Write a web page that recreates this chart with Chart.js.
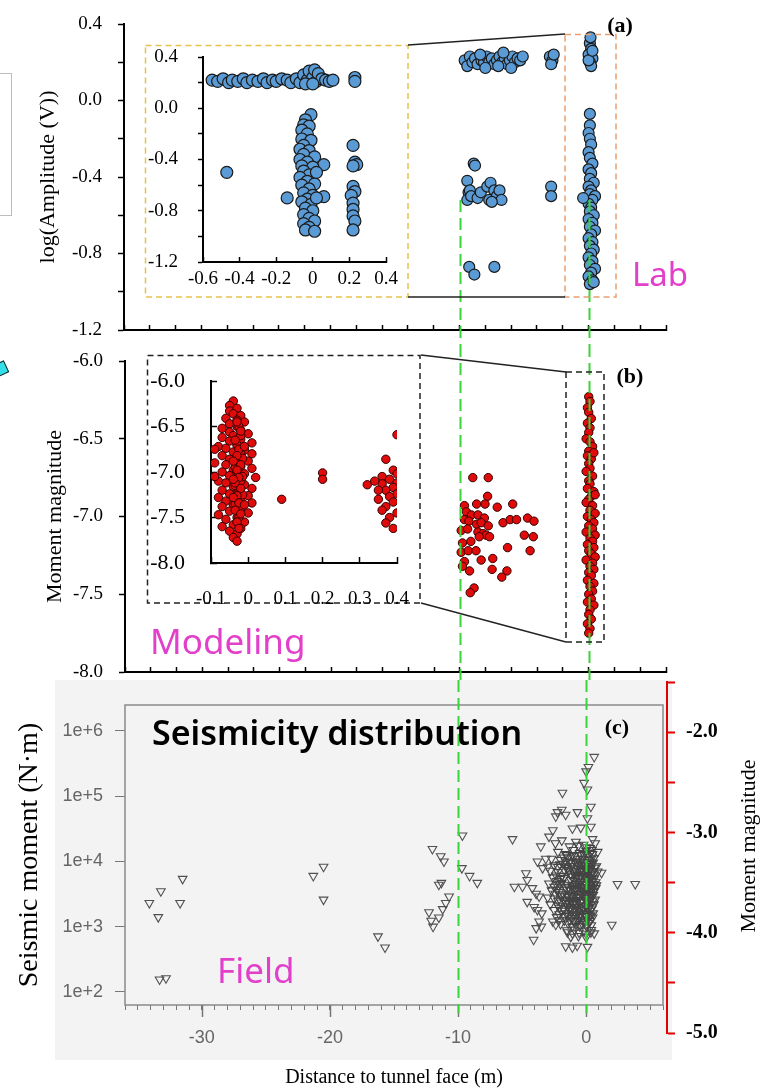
<!DOCTYPE html>
<html>
<head>
<meta charset="utf-8">
<script src="https://cdn.jsdelivr.net/npm/chart.js@4.4.1/dist/chart.umd.min.js"></script>
<style>
  body { margin: 0; background: #fff; }
  #wrap { position: relative; width: 771px; height: 1091px; overflow: hidden; background: #fff; }
  canvas { position: absolute; }
  #scan { position: absolute; left: 55px; top: 680px; width: 617px; height: 380px; background: #f3f3f3; }
  #sidebox { position: absolute; left: -6px; top: 73px; width: 16px; height: 141px; border: 1.5px solid #bdbdbd; }
  #cyan { position: absolute; left: -4px; top: 362px; width: 9px; height: 11px; background: #33e0e8; border: 1.5px solid #222; transform: rotate(-25deg); }
  svg { position: absolute; left: 0; top: 0; }
</style>
</head>
<body>
<div id="wrap">
  <div id="scan"></div>
  <div id="sidebox"></div>
  <div id="cyan"></div>
  <canvas id="cA" width="700" height="345" style="left:0;top:0"></canvas>
  <canvas id="cB" width="700" height="335" style="left:0;top:345px"></canvas>
  <canvas id="cC" width="680" height="411" style="left:0;top:680px"></canvas>
  <canvas id="cC2" width="131" height="380" style="left:640px;top:670px"></canvas>
  <canvas id="cAin" width="263" height="252" style="left:145px;top:45px"></canvas>
  <canvas id="cBin" width="273" height="262" style="left:147px;top:355px"></canvas>
  <svg width="771" height="1091">
    <g font-family="Liberation Serif, Times New Roman, serif" font-weight="bold" font-size="22" text-anchor="middle">
      <text x="620" y="32">(a)</text>
      <text x="630" y="383">(b)</text>
      <text x="617" y="734">(c)</text>
    </g>
    <g font-family="Noto Sans, sans-serif" fill="#e23fca">
      <text x="632" y="286" font-size="33">Lab</text>
      <text x="150" y="654" font-size="35">Modeling</text>
      <text x="217" y="983" font-size="35">Field</text>
    </g>
    <text x="152" y="745" font-family="Noto Sans, sans-serif" font-weight="600" font-size="34">Seismicity distribution</text>
    <text transform="translate(747,846) rotate(-90)" text-anchor="middle" dominant-baseline="central"
          font-family="Liberation Serif, Times New Roman, serif" font-size="22">Moment  magnitude</text>
  </svg>
</div>
<script>
// ---------- DATA ----------
// (a) Lab: distance to tunnel face (m), log(Amplitude (V))
const labBand = [[-9.6,0.21],[-9.4,0.18],[-9.2,0.23],[-9.0,0.2],[-8.8,0.22],[-8.6,0.19],[-8.3,0.21],[-8.1,0.2],
  [-7.9,0.23],[-7.7,0.2],[-7.5,0.22],[-7.3,0.19],[-7.1,0.21],[-6.9,0.23],[-6.7,0.2],[-6.5,0.22],[-6.3,0.19],
  [-6.1,0.21],[-5.9,0.23],[-5.7,0.2],[-5.5,0.22],[-5.3,0.21],[-5.1,0.23],[-8.0,0.17],[-7.0,0.18],[-6.0,0.17],
  [-8.4,0.24],[-6.6,0.25],[-3.0,0.23],[-2.8,0.21],[-2.9,0.19],[-2.7,0.24],
  [0.1,0.3],[0.2,0.27],[0.0,0.24],[0.3,0.22],[0.1,0.2],[0.2,0.18],[0.0,0.21],[0.3,0.26],[0.15,0.33]];
const labMid = [[-8.9,-0.33],[-8.8,-0.34],[-9.4,-0.42],[-9.3,-0.48],[-9.4,-0.52],[-9.2,-0.47],[-9.1,-0.5],
  [-8.6,-0.51],[-8.35,-0.48],[-7.85,-0.45],[-7.6,-0.43],[-7.7,-0.52],[-7.3,-0.47],[-7.1,-0.5],[-6.9,-0.47],
  [-6.75,-0.52],[-7.5,-0.53],[-2.9,-0.45],[-2.9,-0.5],[-0.42,-0.51],
  [-9.25,-0.87],[-8.85,-0.91],[-7.3,-0.87]];
const labColumn = [[0.1,-0.07],[0.1,-0.13],[0.0,-0.17],[0.1,-0.2],[0.2,-0.23],[0.0,-0.27],[0.1,-0.3],
  [0.3,-0.33],[0.0,-0.36],[0.2,-0.38],[0.1,-0.41],[0.4,-0.43],[0.0,-0.45],[0.2,-0.47],[0.1,-0.49],[0.5,-0.5],
  [0.3,-0.52],[0.0,-0.54],[0.2,-0.56],[0.1,-0.58],[0.4,-0.6],[0.0,-0.62],[0.3,-0.64],[0.1,-0.66],[0.5,-0.68],
  [0.2,-0.7],[0.0,-0.72],[0.3,-0.74],[0.1,-0.76],[0.4,-0.78],[0.2,-0.8],[0.0,-0.82],[0.3,-0.84],[0.1,-0.86],
  [0.5,-0.88],[0.2,-0.9],[0.0,-0.92],[0.3,-0.94],[0.1,-0.96],[0.4,-0.95]];
// (a) inset, zoom on -0.6 .. 0.4 m
const labZoomBand = [[-0.55,0.22],[-0.52,0.21],[-0.49,0.23],[-0.46,0.2],[-0.44,0.22],[-0.41,0.21],[-0.38,0.23],
  [-0.36,0.2],[-0.33,0.22],[-0.3,0.21],[-0.27,0.23],[-0.25,0.2],[-0.22,0.22],[-0.2,0.21],[-0.17,0.23],
  [-0.14,0.22],[-0.12,0.2],[-0.09,0.23],[-0.07,0.2],[-0.05,0.26],[-0.03,0.22],[-0.02,0.29],[0.0,0.24],
  [0.01,0.3],[0.02,0.21],[0.03,0.27],[0.05,0.23],[0.07,0.22],[0.09,0.21],[0.11,0.22],[-0.04,0.19],
  [0.0,0.19],[0.23,0.24],[0.23,0.21]];
const labZoomColumn = [[-0.01,-0.05],[-0.04,-0.09],[-0.05,-0.13],[-0.02,-0.14],[-0.06,-0.17],[-0.03,-0.2],
  [-0.06,-0.24],[-0.01,-0.25],[-0.05,-0.29],[-0.07,-0.32],[-0.02,-0.33],[-0.05,-0.36],[0.01,-0.38],
  [-0.07,-0.4],[-0.03,-0.42],[-0.06,-0.45],[0.0,-0.46],[-0.05,-0.49],[-0.02,-0.52],[-0.07,-0.54],
  [-0.03,-0.57],[0.01,-0.59],[-0.06,-0.6],[-0.02,-0.63],[-0.05,-0.66],[0.0,-0.68],[-0.03,-0.71],
  [-0.06,-0.73],[-0.01,-0.75],[-0.04,-0.78],[0.0,-0.8],[-0.05,-0.83],[-0.02,-0.86],[0.01,-0.88],
  [-0.05,-0.9],[-0.02,-0.93],[-0.04,-0.95],[0.01,-0.96],[0.02,-0.5],[0.02,-0.7]];
const labZoomOther = [[0.22,-0.29],[0.23,-0.42],[0.24,-0.44],[0.22,-0.45],[0.22,-0.61],[0.23,-0.65],
  [0.21,-0.68],[0.22,-0.74],[0.22,-0.79],[0.22,-0.84],[0.23,-0.88],[0.22,-0.95],
  [-0.47,-0.5],[-0.14,-0.7],[0.06,-0.44],[0.06,-0.69]];

// (b) Modeling: distance (m), moment magnitude
const modelScatter = [[-9.0,-6.75],[-7.8,-6.75],[-7.85,-6.87],[-8.05,-6.92],[-8.7,-6.92],[-9.65,-6.93],
  [-7.1,-6.94],[-5.9,-6.92],[-9.5,-6.97],[-9.1,-6.99],[-8.6,-6.99],[-9.65,-7.02],[-9.3,-7.03],[-8.1,-7.01],
  [-8.7,-7.05],[-8.35,-7.04],[-7.8,-7.06],[-9.9,-7.09],[-9.4,-7.08],[-8.6,-7.1],[-8.2,-7.11],[-7.95,-7.12],
  [-7.7,-7.13],[-8.5,-7.13],[-6.65,-7.04],[-6.1,-7.02],[-5.6,-7.02],[-4.75,-7.01],[-4.25,-7.03],[-5.0,-7.12],
  [-4.3,-7.13],[-9.15,-7.16],[-9.8,-7.17],[-9.9,-7.23],[-9.35,-7.22],[-8.75,-7.22],[-8.35,-7.28],
  [-7.45,-7.27],[-6.3,-7.2],[-4.55,-7.22],[-9.65,-7.29],[-9.25,-7.35],[-9.8,-7.32],[-7.5,-7.34],
  [-6.35,-7.35],[-6.75,-7.39],[-8.9,-7.46],[-9.2,-7.49]];
const modelColumn = [[0.0,-6.23],[0.1,-6.26],[-0.1,-6.3],[0.0,-6.33],[0.2,-6.37],[-0.1,-6.4],[0.1,-6.43],
  [0.0,-6.46],[-0.2,-6.5],[0.1,-6.52],[0.3,-6.55],[0.0,-6.58],[-0.1,-6.61],[0.2,-6.63],[0.0,-6.66],
  [0.1,-6.69],[-0.2,-6.71],[0.3,-6.74],[0.0,-6.77],[0.1,-6.79],[-0.1,-6.82],[0.4,-6.84],[0.2,-6.87],
  [0.0,-6.89],[-0.2,-6.91],[0.3,-6.93],[0.1,-6.96],[0.5,-6.98],[-0.1,-7.0],[0.2,-7.02],[0.4,-7.04],
  [0.0,-7.06],[0.3,-7.08],[-0.2,-7.1],[0.5,-7.12],[0.1,-7.14],[0.3,-7.16],[-0.1,-7.18],[0.4,-7.2],
  [0.0,-7.22],[0.2,-7.24],[0.5,-7.26],[-0.2,-7.28],[0.3,-7.3],[0.1,-7.32],[0.4,-7.34],[0.0,-7.36],
  [0.2,-7.38],[-0.1,-7.41],[0.4,-7.43],[0.1,-7.45],[0.3,-7.48],[0.0,-7.5],[0.2,-7.53],[-0.1,-7.55],
  [0.4,-7.57],[0.1,-7.6],[0.0,-7.63],[0.2,-7.66],[-0.1,-7.69],[0.1,-7.72],[0.0,-7.75],[0.4,-6.59],[0.5,-6.86]];
// (b) inset, zoom on -0.1 .. 0.4 m
const modelZoomCore = [[-0.04,-6.22],[-0.05,-6.27],[-0.03,-6.3],[-0.05,-6.33],[-0.04,-6.36],[-0.02,-6.38],
  [-0.06,-6.41],[-0.03,-6.43],[-0.01,-6.45],[-0.05,-6.47],[-0.03,-6.5],[-0.07,-6.52],[-0.02,-6.54],
  [-0.05,-6.56],[0.0,-6.58],[-0.04,-6.6],[-0.07,-6.62],[-0.02,-6.64],[-0.05,-6.66],[0.01,-6.68],
  [-0.03,-6.7],[-0.08,-6.72],[-0.06,-6.74],[-0.01,-6.76],[-0.04,-6.78],[0.01,-6.8],[-0.07,-6.82],
  [-0.03,-6.84],[-0.05,-6.86],[0.0,-6.88],[-0.09,-6.9],[-0.06,-6.92],[-0.02,-6.94],[0.01,-6.96],
  [-0.04,-6.98],[-0.07,-7.0],[-0.01,-7.02],[-0.05,-7.04],[0.02,-7.06],[-0.03,-7.08],[-0.08,-7.1],
  [-0.06,-7.12],[-0.01,-7.14],[-0.04,-7.16],[0.01,-7.18],[-0.07,-7.2],[-0.03,-7.22],[-0.05,-7.24],
  [0.0,-7.26],[-0.08,-7.28],[-0.02,-7.3],[-0.06,-7.32],[0.01,-7.34],[-0.04,-7.36],[-0.07,-7.38],
  [-0.02,-7.4],[-0.05,-7.43],[0.0,-7.45],[-0.08,-7.47],[-0.03,-7.5],[-0.06,-7.52],[-0.01,-7.55],
  [-0.04,-7.58],[-0.07,-7.6],[-0.02,-7.62],[-0.05,-7.65],[-0.03,-7.68],[-0.04,-7.72],[-0.03,-7.76],
  [-0.09,-6.75],[-0.09,-7.05],
  [-0.025,-6.5],[-0.02,-6.6],[-0.03,-6.7],[-0.02,-6.8],[-0.025,-6.9],[-0.03,-7.0],[-0.02,-7.1],
  [-0.025,-7.2],[-0.03,-7.3],[-0.02,-7.4],[-0.025,-7.5],[-0.015,-6.85],[-0.015,-7.05],[-0.015,-7.25],
  [-0.035,-6.95],[-0.035,-7.15],[-0.035,-7.35],
  [-0.03,-6.45],[-0.02,-6.55],[-0.035,-6.65],[-0.025,-6.75],[-0.03,-6.82],[-0.02,-6.92],[-0.03,-6.98],
  [-0.025,-7.06],[-0.035,-7.12],[-0.02,-7.18],[-0.03,-7.26],[-0.025,-7.34],[-0.035,-7.42],[-0.02,-7.46],
  [-0.03,-7.55],[-0.025,-7.62],[-0.04,-6.88],[-0.04,-7.08],[-0.04,-7.28],[-0.01,-6.72],[-0.01,-7.36]];
const modelZoomOther = [[0.09,-7.3],[0.2,-7.01],[0.2,-7.08],[0.32,-7.14],
  [0.4,-6.59],[0.37,-6.86],[0.39,-6.98],[0.4,-7.02],[0.36,-7.05],[0.38,-7.08],[0.4,-7.12],[0.36,-7.13],
  [0.39,-7.17],[0.37,-7.2],[0.4,-7.24],[0.38,-7.27],[0.35,-7.3],[0.39,-7.33],[0.37,-7.38],[0.36,-7.42],
  [0.4,-7.45],[0.38,-7.5],[0.37,-7.56],[0.39,-7.62],[0.34,-7.1],[0.35,-7.2]];

// (c) Field: distance (m), seismic moment (N·m)
const fieldSparse = [[-34.1,2.3e3],[-33.2,3.5e3],[-33.4,1.4e3],[-31.5,5.4e3],[-31.7,2.3e3],[-33.3,155],[-32.8,162],
  [-21.3,6.0e3],[-20.5,8.3e3],[-20.5,2.6e3],[-16.25,710],[-15.7,480],
  [-12.0,1.55e4],[-11.35,1.2e4],[-11.1,1.0e4],[-11.3,4.7e3],[-11.5,4.4e3],[-10.7,2.9e3],[-10.96,2.3e3],
  [-11.2,1.86e3],[-12.27,1.66e3],[-11.95,1.0e3],[-11.5,1.38e3],[-12.1,1.23e3],
  [-9.66,2.5e4],[-9.7,7.9e3],[-9.1,6.0e3],[-8.5,4.7e3],
  [-5.75,2.2e4],[-5.6,4.1e3],[-4.97,4.1e3],[-4.7,6.6e3],[-4.6,5.2e3],[-4.6,2.4e3],[-4.1,630],
  [-4.2,3.9e3],[-3.9,3.2e3],[-3.67,2.9e3],[-4.06,2.0e3],[-3.8,1.8e3],[-3.46,1.6e3],[-3.67,1.2e3],
  [-3.9,950],[-3.5,1.0e3],[-3.54,1.7e4],[-3.8,1.0e4],[-3.15,1.1e4],[-3.0,8.3e3],[-3.4,7.9e3],
  [-2.9,2.4e4],[-2.6,3.0e4],[-1.07,3.2e4],[-0.42,3.3e4],[0.37,3.4e4],[0.5,2.2e4],
  [-2.24,5.7e4],[-1.9,6.2e4],[-1.6,5.2e4],[-2.37,4.9e4],[-0.68,5.7e4],[0.1,4.6e4],[0.37,6.9e4],
  [-1.85,1.13e5],[-0.16,1.6e5],[0.1,1.27e5],[0.18,2.8e5],[0.0,2.4e5],[0.63,4.0e5],
  [1.2,6.7e3],[2.0,1.07e3],[2.45,4.5e3],[3.83,4.5e3],
  [-1.46,820],[-1.07,790],[-0.55,810],[0.0,780],[0.37,820],[0.63,790],
  [-1.6,500],[-1.07,480],[-0.7,510],[0.1,490],[-2.6,1.2e3],[-2.37,1.07e3],[-2.1,1.26e3]];
const fieldCore = [[-2.4,1.9e4],[-1.9,2.1e4],[-1.3,1.7e4],[-0.8,2.0e4],[-0.2,1.8e4],[0.3,1.6e4],[0.7,1.9e4],
  [-2.2,1.4e4],[-1.6,1.3e4],[-1.0,1.5e4],[-0.5,1.35e4],[0.0,1.45e4],[0.5,1.3e4],[0.9,1.4e4],
  [-2.7,1.1e4],[-2.0,1.05e4],[-1.4,1.15e4],[-0.9,1.0e4],[-0.3,1.1e4],[0.2,1.05e4],[0.6,1.12e4],
  [-2.5,8.7e3],[-1.8,9.2e3],[-1.2,8.5e3],[-0.6,9.0e3],[-0.1,8.6e3],[0.4,9.1e3],[0.8,8.4e3],
  [-2.8,7.2e3],[-2.2,6.9e3],[-1.7,7.4e3],[-1.0,7.0e3],[-0.4,7.3e3],[0.1,6.8e3],[0.5,7.1e3],[0.9,7.0e3],
  [-2.6,5.7e3],[-2.0,5.4e3],[-0.8,5.8e3],[-0.3,5.5e3],[0.2,5.7e3],[0.6,5.3e3],
  [-2.9,4.6e3],[-2.3,4.4e3],[-1.9,4.7e3],[-1.1,4.3e3],[-0.6,4.6e3],[0.0,4.4e3],[0.4,4.5e3],[0.8,4.3e3],
  [-2.7,3.6e3],[-2.1,3.4e3],[-1.5,3.7e3],[-0.9,3.5e3],[-0.3,3.6e3],[0.2,3.4e3],[0.6,3.5e3],
  [-3.0,2.8e3],[-2.5,2.7e3],[-1.9,2.9e3],[-1.3,2.6e3],[-0.7,2.8e3],[-0.1,2.7e3],[0.4,2.9e3],
  [-2.8,2.2e3],[-2.2,2.1e3],[-1.6,2.3e3],[-1.0,2.2e3],[-0.4,2.1e3],[0.1,2.3e3],[0.6,2.2e3],
  [-2.5,1.8e3],[-1.9,1.75e3],[-1.3,1.85e3],[-0.7,1.7e3],[-0.2,1.8e3],[0.3,1.75e3],
  [-2.3,1.4e3],[-1.7,1.45e3],[-1.1,1.35e3],[-0.5,1.4e3],[0.0,1.45e3],[0.5,1.38e3],
  [-2.0,1.1e3],[-1.4,1.12e3],[-0.8,1.08e3],[-0.3,1.1e3],[0.2,1.15e3],
  [-1.5,880],[-0.9,900],[-0.2,870],[0.4,890],[-1.2,700],[-0.6,720],[0.0,690],
  [-1.5,1.25e4],[-0.95,1.2e4],[-0.4,1.25e4],[0.1,1.2e4],[-1.3,9.8e3],[-0.75,1.0e4],[-0.2,9.6e3],[0.3,9.9e3],
  [-1.45,8.0e3],[-0.9,7.8e3],[-0.35,8.1e3],[0.15,7.9e3],[0.65,8.0e3],[-1.25,6.3e3],[-0.7,6.2e3],
  [-0.15,6.4e3],[0.35,6.1e3],[-0.9,5.0e3],[-0.45,4.9e3],[0.05,5.1e3],[0.45,5.0e3],
  [-1.35,4.0e3],[-0.85,3.9e3],[-0.35,4.05e3],[0.15,3.95e3],[0.55,4.0e3],[-1.2,3.1e3],[-0.65,3.15e3],
  [-0.1,3.05e3],[0.35,3.2e3],[-1.45,2.45e3],[-0.95,2.5e3],[-0.45,2.4e3],[0.05,2.5e3],[0.5,2.45e3],
  [-1.25,1.95e3],[-0.75,2.0e3],[-0.25,1.95e3],[0.25,2.0e3],[-1.0,1.55e3],[-0.45,1.6e3],[0.1,1.58e3],
  [0.55,1.6e3],[-1.7,1.25e3],[-1.0,1.23e3],[-0.3,1.26e3],[0.3,1.22e3],
  [-0.6,1.75e4],[0.05,1.65e4],[0.45,1.5e4],[-1.1,1.25e4],[-0.2,1.3e4],[0.35,1.35e4],
  [-1.6,1.0e4],[-1.05,9.4e3],[-0.45,9.7e3],[0.1,9.3e3],[0.55,9.6e3],[-2.2,8.2e3],[-1.6,8.4e3],
  [-0.6,7.6e3],[-0.05,7.5e3],[0.35,7.7e3],[-2.35,6.1e3],[-1.9,6.0e3],[-0.95,6.6e3],[-0.45,6.0e3],
  [0.1,6.1e3],[0.6,6.3e3],[-2.3,5.0e3],[-1.2,5.2e3],[-0.65,5.3e3],[-0.1,4.8e3],[0.3,5.3e3],[0.75,4.8e3],
  [-2.5,4.1e3],[-1.65,4.1e3],[-1.05,3.8e3],[-0.55,4.2e3],[-0.05,3.85e3],[0.35,3.8e3],[0.75,3.9e3],
  [-2.4,3.2e3],[-1.8,3.2e3],[-1.45,3.0e3],[-0.9,3.0e3],[-0.4,3.25e3],[0.1,3.15e3],[0.55,3.05e3],
  [-2.2,2.5e3],[-1.7,2.6e3],[-1.15,2.4e3],[-0.65,2.55e3],[-0.2,2.35e3],[0.3,2.6e3],[0.7,2.6e3],
  [-2.1,1.95e3],[-1.45,2.05e3],[-0.95,1.9e3],[-0.5,1.85e3],[0.0,2.05e3],[0.45,1.9e3],
  [-2.1,1.55e3],[-1.55,1.6e3],[-0.75,1.5e3],[-0.15,1.55e3],[0.35,1.5e3],[-1.3,1.28e3],[-0.65,1.25e3],
  [0.1,1.3e3],[-1.1,1.0e3],[-0.5,1.02e3],[0.05,1.0e3],[0.4,1.05e3],
  [-1.75,1.15e4],[-0.65,1.1e4],[0.4,1.1e4],[-2.05,9.0e3],[-0.25,8.9e3],[0.2,8.4e3],[-1.35,7.2e3],
  [-0.8,7.1e3],[-0.2,7.0e3],[0.25,7.3e3],[-1.75,5.6e3],[-1.1,5.9e3],[-0.55,5.6e3],[0.0,5.8e3],
  [0.4,5.6e3],[-2.05,4.5e3],[-1.5,4.4e3],[-0.8,4.5e3],[-0.25,4.4e3],[0.25,4.5e3],[0.6,4.5e3],
  [-2.3,3.7e3],[-1.25,3.6e3],[-0.6,3.7e3],[-0.15,3.5e3],[0.4,3.6e3],[-2.0,3.0e3],[-1.05,2.9e3],
  [-0.55,2.85e3],[0.0,3.0e3],[0.25,2.8e3],[-1.95,2.35e3],[-1.3,2.25e3],[-0.8,2.3e3],[-0.3,2.55e3],
  [0.2,2.2e3],[-1.75,1.85e3],[-1.05,1.75e3],[-0.4,1.8e3],[0.15,1.85e3],[-1.35,1.5e3],[-0.3,1.42e3],
  [0.25,1.45e3],[-0.9,1.2e3],[-0.1,1.18e3]];
const fieldTicks = [1e2, 1e3, 1e4, 1e5, 1e6];
const markedDistances = [-10, 0];   // green guide lines

// ---------- HELPERS ----------
const SERIF = '"Liberation Serif", "Times New Roman", serif';
const SANS = '"Liberation Sans", Arial, sans-serif';
const pts = arr => arr.map(([x, y]) => ({ x, y }));
const fmt1 = v => v.toFixed(1);
const fmtZero = v => Math.abs(v) < 1e-9 ? '0' : v.toFixed(1);
const fmtEvery04 = v => (Math.round(v * 10) % 4 === 0) ? v.toFixed(1) : '';

function axis(o) {
  return {
    type: o.type || 'linear', min: o.min, max: o.max, position: o.position,
    afterFit: s => {
      if (s.isHorizontal()) s.height = o.size; else s.width = o.size;
      // labels may overhang; do not let them shrink the plot area
      s.paddingTop = s.paddingBottom = s.paddingLeft = s.paddingRight = 0;
    },
    afterBuildTicks: o.tickValues ? (s => { s.ticks = o.tickValues.map(v => ({ value: v })); }) : undefined,
    ticks: {
      stepSize: o.step, autoSkip: false, maxRotation: 0, minRotation: 0,
      display: o.labels !== false, padding: o.pad || 0, callback: o.fmt,
      color: o.labelColor || '#000',
      font: { family: o.family || SERIF, size: o.font || 19, weight: o.weight || 'normal' }
    },
    grid: { drawOnChartArea: false, color: o.color || '#000', tickLength: o.tick, tickWidth: o.tickW || 1.5 },
    border: { display: o.border !== false, color: o.color || '#000', width: o.borderW || 2 },
    title: o.title ? {
      display: true, text: o.title, color: '#000',
      font: { family: SERIF, size: o.titleSize || 22 }, padding: o.titlePad
    } : { display: false }
  };
}

function dots(data, r, fill, stroke, bw) {
  return { data: pts(data), pointRadius: r, pointHoverRadius: r, pointBackgroundColor: fill,
           pointBorderColor: stroke, pointBorderWidth: bw };
}

function greenLines(fromValue, bottomExtra) {
  return {
    id: 'greenLines',
    afterDatasetsDraw(chart) {
      const ctx = chart.ctx, xs = chart.scales.x, ys = chart.scales.y;
      ctx.save();
      ctx.strokeStyle = '#3ad43a';
      ctx.lineWidth = 2;
      ctx.setLineDash([12, 6]);
      markedDistances.forEach(d => {
        const px = Math.round(xs.getPixelForValue(d)) + 0.5;
        const y0 = fromValue == null ? 0 : ys.getPixelForValue(fromValue);
        const y1 = bottomExtra == null ? chart.height : chart.chartArea.bottom + bottomExtra;
        ctx.beginPath(); ctx.moveTo(px, y0); ctx.lineTo(px, y1); ctx.stroke();
      });
      ctx.restore();
    }
  };
}

// zoom boxes + connectors, in canvas pixels
function zoomFrames(boxes, links) {
  return {
    id: 'zoomFrames',
    afterDatasetsDraw(chart) {
      const ctx = chart.ctx;
      ctx.save();
      ctx.lineWidth = 1.5;
      boxes.forEach(b => {
        ctx.strokeStyle = b.color;
        ctx.setLineDash([6, 4]);
        ctx.strokeRect(b.x0, b.y0, b.x1 - b.x0, b.y1 - b.y0);
      });
      ctx.setLineDash([]);
      ctx.strokeStyle = '#222';
      ctx.lineWidth = 1.3;
      links.forEach(l => { ctx.beginPath(); ctx.moveTo(l[0], l[1]); ctx.lineTo(l[2], l[3]); ctx.stroke(); });
      ctx.restore();
    }
  };
}

function plot(id, datasets, scales, padding, plugins) {
  return new Chart(document.getElementById(id), {
    type: 'scatter',
    data: { datasets },
    options: {
      responsive: false, animation: false, layout: { padding },
      plugins: { legend: { display: false }, tooltip: { enabled: false } },
      scales
    },
    plugins: plugins || []
  });
}

const BLUE = '#5b9bd5', RED = '#e00b0b';

// ---------- (a) Lab ----------
plot('cA',
  [dots(labBand, 5.5, BLUE, '#1a1a1a', 1.2), dots(labMid, 5.5, BLUE, '#1a1a1a', 1.2),
   dots(labColumn, 5.5, BLUE, '#1a1a1a', 1.2)],
  {
    x: axis({ min: -36, max: 6, step: 2, size: 15, tick: -5, labels: false }),
    y: axis({ min: -1.2, max: 0.4, step: 0.2, size: 124, tick: 6, pad: 16, fmt: fmtEvery04,
              title: 'log(Amplitude (V))', titlePad: { top: 35, bottom: 0 } })
  },
  { top: 24, right: 34, left: 0, bottom: 0 },
  [greenLines(-0.52, null),
   zoomFrames([{ x0: 145.5, y0: 45.5, x1: 408, y1: 297, color: '#e6c24a' },
               { x0: 565, y0: 34.5, x1: 616, y1: 297, color: '#e8a070' }],
              [[408, 45, 565, 34], [408, 297, 565, 297]])]);

plot('cAin',
  [dots(labZoomBand, 6, BLUE, '#1a1a1a', 1.2), dots(labZoomColumn, 6, BLUE, '#1a1a1a', 1.2),
   dots(labZoomOther, 6, BLUE, '#1a1a1a', 1.2)],
  {
    x: axis({ min: -0.6, max: 0.4, step: 0.2, size: 35, tick: -5, pad: 11, fmt: fmtZero }),
    y: axis({ min: -1.2, max: 0.4, step: 0.2, size: 58, tick: 5, pad: 20, fmt: fmtEvery04 })
  },
  { top: 12, right: 22, left: 0, bottom: 0 });

// ---------- (b) Modeling ----------
plot('cB',
  [dots(modelScatter, 4.2, RED, '#300', 1), dots(modelColumn, 4.2, RED, '#300', 1)],
  {
    x: axis({ min: -36, max: 6, step: 2, size: 8, tick: -5, labels: false }),
    y: axis({ min: -8, max: -6, step: 0.5, size: 125, tick: 6, pad: 16, fmt: fmt1,
              title: 'Moment magnitude', titlePad: { top: 42, bottom: 0 } })
  },
  { top: 16, right: 34, left: 0, bottom: 0 },
  [greenLines(null, null),
   zoomFrames([{ x0: 147.5, y0: 10.5, x1: 420, y1: 258, color: '#222' },
               { x0: 566, y0: 27, x1: 604, y1: 297, color: '#222' }],
              [[421, 10, 566, 27], [421, 258, 566, 297]])]);

plot('cBin',
  [dots(modelZoomCore, 4.2, RED, '#300', 1), dots(modelZoomOther, 4.2, RED, '#300', 1)],
  {
    x: axis({ min: -0.1, max: 0.4, step: 0.1, size: 54, tick: -6, pad: 31, font: 19, fmt: fmtZero }),
    y: axis({ min: -8, max: -6, step: 0.5, size: 64, tick: -6, pad: 32, font: 22, fmt: fmt1 })
  },
  { top: 26, right: 23, left: 0, bottom: 0 });

// ---------- (c) Field ----------
const frameC = {
  id: 'frameC',
  beforeDatasetsDraw(chart) {
    const { ctx, chartArea: a } = chart, xs = chart.scales.x;
    ctx.save();
    ctx.strokeStyle = '#8a8a8a';
    ctx.lineWidth = 1.5;
    ctx.strokeRect(a.left, a.top, a.right - a.left, a.bottom - a.top);
    // longer ticks at the labelled distances
    ctx.strokeStyle = '#777';
    xs.ticks.forEach(t => {
      if (Math.round(t.value) % 10 !== 0) return;
      const px = Math.round(xs.getPixelForValue(t.value)) + 0.5;
      ctx.beginPath(); ctx.moveTo(px, a.bottom); ctx.lineTo(px, a.bottom + 12); ctx.stroke();
    });
    ctx.restore();
  }
};

plot('cC',
  [{ ...dots(fieldSparse, 5, 'rgba(0,0,0,0)', '#505050', 1.1), pointStyle: 'triangle', rotation: 180 },
   { ...dots(fieldCore, 5, 'rgba(0,0,0,0)', '#444', 1.1), pointStyle: 'triangle', rotation: 180 }],
  {
    x: axis({ min: -36, max: 6, step: 1, size: 86, tick: 5, tickW: 1, pad: 17, family: SANS, font: 18,
              labelColor: '#666', color: '#777', border: false,
              fmt: v => Math.round(v) % 10 === 0 ? String(Math.round(v)) : '',
              title: 'Distance to tunnel face (m)', titleSize: 20, titlePad: { top: 0, bottom: 1 } }),
    y: axis({ type: 'logarithmic', min: 63, max: 2.5e6, tickValues: fieldTicks, size: 125, tick: 10, tickW: 1,
              pad: 12, family: SANS, font: 18, labelColor: '#666', color: '#777', border: false,
              fmt: v => '1e+' + Math.round(Math.log10(v)),
              title: 'Seismic moment (N\u00b7m)', titleSize: 28, titlePad: { top: 13, bottom: 0 } })
  },
  { top: 25, right: 17, left: 0, bottom: 0 },
  [frameC, greenLines(null, 8)]);

// red moment-magnitude axis on the right of (c)
new Chart(document.getElementById('cC2'), {
  type: 'scatter',
  data: { datasets: [] },
  options: {
    responsive: false, animation: false,
    layout: { padding: { top: 12, bottom: 17, left: 0, right: 0 } },
    plugins: { legend: { display: false }, tooltip: { enabled: false } },
    scales: {
      x: { display: false, min: 0, max: 1 },
      y: axis({ min: -5, max: -1.5, step: 0.5, position: 'right', size: 104, tick: 8, tickW: 2,
                pad: 11, font: 20, weight: 'bold', color: '#e00000', borderW: 2,
                fmt: v => Math.abs(v - Math.round(v)) < 1e-9 ? v.toFixed(1) : '' })
    }
  }
});
</script>
</body>
</html>
